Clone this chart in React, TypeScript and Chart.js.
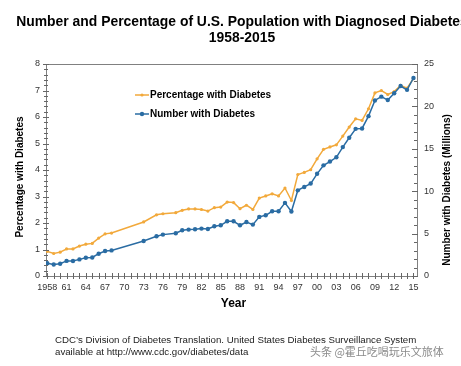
import React, { useEffect, useRef } from "react";
import { Chart, registerables } from "chart.js";

Chart.register(...registerables);

const years = [
  1958, 1959, 1960, 1961, 1962, 1963, 1964, 1965, 1966, 1967, 1968,
  1973, 1975, 1976,
  1978, 1979, 1980, 1981, 1982, 1983, 1984, 1985, 1986, 1987, 1988, 1989, 1990,
  1991, 1992, 1993, 1994, 1995, 1996, 1997, 1998, 1999,
  2000, 2001, 2002, 2003, 2004, 2005, 2006, 2007, 2008, 2009,
  2010, 2011, 2012, 2013, 2014, 2015,
];

const percentWithDiabetes = [
  0.93, 0.85, 0.9, 1.02, 1.02, 1.13, 1.2, 1.23, 1.43, 1.59, 1.62,
  2.04, 2.31, 2.35,
  2.39, 2.48, 2.53, 2.53, 2.51, 2.45, 2.58, 2.6, 2.79, 2.77, 2.54, 2.67, 2.51,
  2.94, 3.02, 3.1, 3.02, 3.32, 2.85, 3.83, 3.91, 4.01,
  4.42, 4.78, 4.87, 4.95, 5.28, 5.62, 5.93, 5.87, 6.31, 6.91,
  7.0, 6.85, 6.96, 7.19, 7.09, 7.45,
];

const numberWithDiabetes = [
  1.5, 1.36, 1.45, 1.78, 1.77, 1.96, 2.16, 2.19, 2.63, 2.95, 3.02,
  4.13, 4.68, 4.88,
  5.05, 5.39, 5.47, 5.51, 5.59, 5.55, 5.86, 5.98, 6.45, 6.45, 5.98, 6.37, 6.06,
  6.97, 7.16, 7.63, 7.63, 8.62, 7.6, 10.1, 10.5, 10.9,
  12.05, 13.05, 13.5, 14.0, 15.2, 16.3, 17.35, 17.4, 18.85, 20.7,
  21.15, 20.75, 21.55, 22.4, 21.95, 23.35,
];

const titleLines = [
  "Number and Percentage of U.S. Population with Diagnosed Diabetes",
  "1958-2015",
];
const leftAxisTitle = "Percentage with Diabetes";
const rightAxisTitle = "Number with Diabetes (Millions)";
const xAxisTitle = "Year";
const legendLabels = ["Percentage with Diabetes", "Number with Diabetes"];
const footerLines = [
  "CDC\u2019s Division of Diabetes Translation. United States Diabetes Surveillance System",
  "available at http://www.cdc.gov/diabetes/data",
];
const watermark = "头条 @霍丘吃喝玩乐文旅体";

const ORANGE = "#F2A93B";
const BLUE = "#2A6CA3";
const AXIS = "#808080";
const FONT = '"Liberation Sans", Arial, sans-serif';

const decorPlugin = {
  id: "decor",
  afterDraw(chart: any) {
    const { ctx, chartArea: ca, scales } = chart;
    const xs = scales.x;
    const yl = scales.y;
    const yr = scales.y1;
    ctx.save();
    // top frame line
    ctx.strokeStyle = AXIS;
    ctx.lineWidth = 1;
    ctx.beginPath();
    ctx.moveTo(ca.left, ca.top + 0.5);
    ctx.lineTo(ca.right, ca.top + 0.5);
    ctx.stroke();

    // tick marks
    ctx.strokeStyle = "#666";
    ctx.beginPath();
    for (let y = Math.ceil(xs.min); y <= Math.floor(xs.max); y++) {
      const px = Math.round(xs.getPixelForValue(y)) + 0.5;
      ctx.moveTo(px, ca.bottom - 3);
      ctx.lineTo(px, ca.bottom + 3);
    }
    for (let i = 0; i <= 40; i++) {
      const v = i / 5;
      const py = Math.round(yl.getPixelForValue(v)) + 0.5;
      const major = i % 5 === 0;
      ctx.moveTo(ca.left - (major ? 3 : 2), py);
      ctx.lineTo(ca.left + (major ? 3 : 2), py);
    }
    for (let v = 0; v <= 25; v++) {
      const py = Math.round(yr.getPixelForValue(v)) + 0.5;
      const major = v % 5 === 0;
      ctx.moveTo(ca.right - (major ? 5 : 3), py);
      ctx.lineTo(ca.right + (major ? 1 : 0), py);
    }
    ctx.stroke();

    // title
    ctx.fillStyle = "#000";
    ctx.textAlign = "center";
    ctx.textBaseline = "middle";
    ctx.font = `bold 13.9px ${FONT}`;
    ctx.fillText(titleLines[0], 242, 22);
    ctx.fillText(titleLines[1], 242, 38);

    // axis titles
    ctx.font = `bold 10px ${FONT}`;
    ctx.save();
    ctx.translate(20, 177);
    ctx.rotate(-Math.PI / 2);
    ctx.fillText(leftAxisTitle, 0, 0);
    ctx.restore();
    ctx.save();
    ctx.translate(447, 190);
    ctx.rotate(-Math.PI / 2);
    ctx.fillText(rightAxisTitle, 0, 0);
    ctx.restore();
    ctx.font = `bold 12px ${FONT}`;
    ctx.fillText(xAxisTitle, (ca.left + ca.right) / 2 + 2, 304);

    // legend inside plot
    const legendColors = [ORANGE, BLUE];
    const legendRadius = [1.6, 2.2];
    ctx.textAlign = "left";
    ctx.font = `bold 10px ${FONT}`;
    legendLabels.forEach((label, i) => {
      const ly = 95 + i * 19;
      ctx.strokeStyle = legendColors[i];
      ctx.lineWidth = 1.5;
      ctx.beginPath();
      ctx.moveTo(135, ly);
      ctx.lineTo(149, ly);
      ctx.stroke();
      ctx.fillStyle = legendColors[i];
      ctx.beginPath();
      ctx.arc(142, ly, legendRadius[i], 0, Math.PI * 2);
      ctx.fill();
      ctx.fillStyle = "#000";
      ctx.fillText(label, 150, ly + 0.5);
    });

    // footer
    ctx.font = `9.7px ${FONT}`;
    ctx.fillStyle = "#222";
    ctx.fillText(footerLines[0], 55, 340);
    ctx.fillText(footerLines[1], 55, 352);

    // watermark
    ctx.font = `11px "Noto Sans CJK SC", sans-serif`;
    ctx.fillStyle = "#8a8a8a";
    ctx.fillText(watermark, 310, 352);
    ctx.restore();
  },
};

export default function App() {
  const canvasRef = useRef<HTMLCanvasElement | null>(null);

  useEffect(() => {
    const canvas = canvasRef.current;
    if (!canvas) return;
    const percentData = years.map((y, i) => ({ x: y, y: percentWithDiabetes[i] }));
    const numberData = years.map((y, i) => ({ x: y, y: numberWithDiabetes[i] }));

    const tickFont = { size: 9, family: FONT };

    const chart = new Chart(canvas, {
      type: "line",
      data: {
        datasets: [
          {
            label: legendLabels[1],
            data: numberData,
            yAxisID: "y1",
            borderColor: BLUE,
            backgroundColor: BLUE,
            borderWidth: 1.5,
            pointRadius: 2.2,
            pointBorderWidth: 0,
            pointBackgroundColor: BLUE,
            tension: 0,
          },
          {
            label: legendLabels[0],
            data: percentData,
            yAxisID: "y",
            borderColor: ORANGE,
            backgroundColor: ORANGE,
            borderWidth: 1.5,
            pointRadius: 1.6,
            pointBorderWidth: 0,
            pointBackgroundColor: ORANGE,
            tension: 0,
          },
        ],
      },
      options: {
        responsive: false,
        maintainAspectRatio: false,
        devicePixelRatio: 1,
        animation: false,
        events: [],
        layout: { padding: { top: 64, left: 0, right: 0, bottom: 0 } },
        plugins: {
          legend: { display: false },
          title: { display: false },
          tooltip: { enabled: false },
        },
        scales: {
          x: {
            type: "linear",
            min: 1957.8,
            max: 2015.55,
            grid: { display: false, drawTicks: false },
            border: { display: true, color: AXIS, width: 1 },
            ticks: {
              stepSize: 1,
              autoSkip: false,
              includeBounds: false,
              maxRotation: 0,
              minRotation: 0,
              padding: 6,
              color: "#333",
              font: tickFont,
              callback: (v: any) => {
                const yv = Math.round(Number(v));
                if (Math.abs(Number(v) - yv) > 1e-6) return "";
                if ((yv - 1958) % 3 !== 0) return "";
                return yv === 1958 ? "1958" : String(yv % 100).padStart(2, "0");
              },
            },
            afterFit: (s: any) => {
              s.height = 90;
            },
          },
          y: {
            position: "left",
            min: 0,
            max: 8,
            grid: { display: false, drawTicks: false },
            border: { display: true, color: AXIS, width: 1 },
            ticks: {
              stepSize: 1,
              padding: 6,
              color: "#333",
              font: tickFont,
            },
            afterFit: (s: any) => {
              s.width = 46;
            },
          },
          y1: {
            position: "right",
            min: 0,
            max: 25,
            grid: { display: false, drawTicks: false },
            border: { display: true, color: AXIS, width: 1 },
            ticks: {
              stepSize: 5,
              padding: 7,
              color: "#333",
              font: tickFont,
            },
            afterFit: (s: any) => {
              s.width = 44;
            },
          },
        },
      },
      plugins: [decorPlugin],
    } as any);

    return () => chart.destroy();
  }, []);

  return (
    <div style={{ position: "absolute", left: 0, top: 0, width: 461, height: 366, background: "#fff" }}>
      <canvas ref={canvasRef} width={461} height={366} style={{ display: "block" }} />
    </div>
  );
}
